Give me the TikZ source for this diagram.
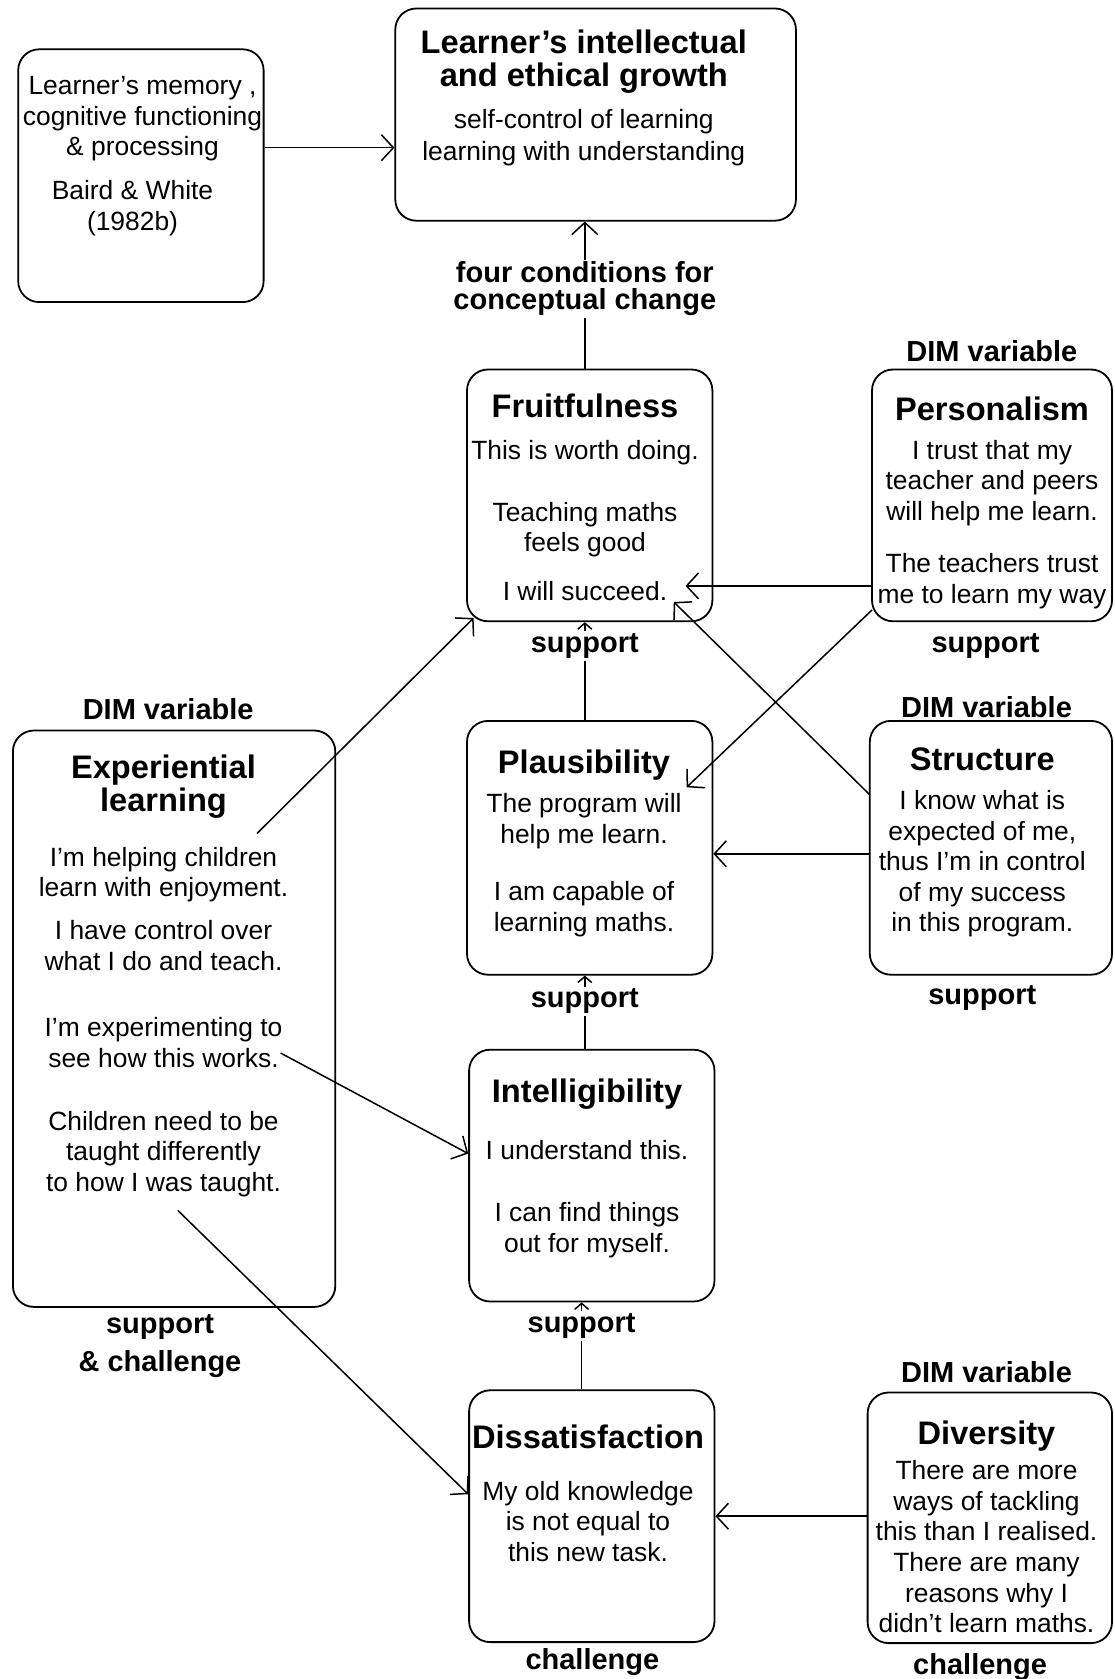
\documentclass[tikz,border=0pt]{standalone}
\usepackage{fontspec}
\setmainfont{Liberation Sans}
\usetikzlibrary{arrows.meta}
\newcommand\ttl[1]{{\fontsize{16.3}{17}\selectfont\bfseries #1}}

\begin{document}
\begin{tikzpicture}[x=0.5pt,y=-0.5pt]
\tikzset{
    box/.style={draw, line width=0.9pt, rounded corners=10.5pt, inner sep=0pt},
    txt/.style={align=center, inner sep=0pt, anchor=north, font=\fontsize{13.2}{15.3}\selectfont},
    lbl/.style={inner sep=1pt, align=center, font=\fontsize{14.5}{13}\selectfont\bfseries},
    conn/.style={line width=0.75pt},
    arr/.style={line width=0.75pt, -{Straight Barb[length=6pt,width=13pt]}},
    stub/.style={line width=0.75pt, -{Straight Barb[length=3pt,width=7pt]}},
}
\useasboundingbox (0,0) rectangle (1114,1679);

% Boxes
\foreach \name/\x/\y/\w/\h in {memory/140.9/175.7/122.7/126.4, growth/595.6/114.6/200.3/106.1,
    fruit/589.7/495.4/122.7/125.9, person/992/495.4/120/125.9,
    plaus/589.7/847.8/122.7/126.9, structure/990.9/847.8/121.1/126.9,
    exper/174.1/1018.7/161.2/288.2, intell/591.8/1175.6/122.7/125.9,
    dissat/591.8/1516.2/122.7/125.9, diversity/989.8/1517.8/122.2/125.3}
    \node[box, minimum width=\w pt, minimum height=\h pt] (\name) at (\x,\y) {};

% Box texts
\node[txt] (memorytxt) at (142.5,76.2) {Learner's memory ,\\cognitive functioning\\\& processing\\[6.7pt]Baird \& White\rule{10pt}{0pt}\\(1982b)\rule{10pt}{0pt}};
\node[txt] (growthtxt) at (583.8,29) {\ttl{Learner's intellectual}\\[1.3pt]\ttl{and ethical growth}\\[5.6pt]self-control of learning\\[0.8pt]learning with understanding};
\node[txt] (fruittxt) at (585,393.2) {\ttl{Fruitfulness}\\[5.6pt]This is worth doing.\\[15.8pt]Teaching maths\\feels good\\[8.8pt]I will succeed.};
\node[txt] (persontxt) at (992,396.4) {\ttl{Personalism}\\[4pt]I trust that my\\teacher and peers\\will help me learn.\\[10.9pt]The teachers trust\\me to learn my way};
\node[txt] (plaustxt) at (584,749.9) {\ttl{Plausibility}\\[4pt]The program will\\help me learn.\\[13.6pt]I am capable of\\learning maths.};
\node[txt] (structuretxt) at (982.3,747.7) {\ttl{Structure}\\[4pt]I know what is\\expected of me,\\thus I'm in control\\of my success\\in this program.};
\node[txt] (expertxt) at (163.5,754.2) {\ttl{Experiential}\\[1.3pt]\ttl{learning}\\[12pt]I'm helping children\\learn with enjoyment.\\[6.1pt]I have control over\\what I do and teach.\\[17.9pt]I'm experimenting to\\see how this works.\\[16.3pt]Children need to be\\taught differently\\to how I was taught.};
\node[txt] (intelltxt) at (587,1078.7) {\ttl{Intelligibility}\\[13.1pt]I understand this.\\[15.8pt]I can find things\\out for myself.};
\node[txt] (dissattxt) at (588,1424.7) {\ttl{Dissatisfaction}\\[10.4pt]My old knowledge\\is not equal to\\this new task.};
\node[txt] (diversitytxt) at (986.5,1420.4) {\ttl{Diversity}\\[2.3pt]There are more\\ways of tackling\\this than I realised.\\There are many\\reasons why I\\didn't learn maths.};

% Labels
\foreach \name/\x/\y/\txt in {pdim/991.9/351.3/DIM variable, edim/168.2/709.1/DIM variable,
    sdim/986.5/707/DIM variable, vdim/986.5/1372.2/DIM variable,
    fsup/584.8/645.9/support, psup/985.5/645.9/support, plsup/584.8/1001.5/support,
    ssup/982.2/998.3/support, insup/581.6/1326.1/support,
    dchal/592.4/1662.4/challenge, vchal/980.1/1666.7/challenge}
    \node[lbl] (\name) at (\x,\y) {\txt};
\node[lbl] (four) at (584.8,289) {four conditions for\\[0.5pt]conceptual change};
\node[lbl] (esup) at (160,1346) {support\\[4.7pt]\& challenge};

% Vertical chain
\draw[conn] (fruit.north -| four) -- (four.south);
\draw[arr] (four.north) -- (growth.south -| four);
\draw[conn] (plaus.north -| fsup) -- (fsup.south);
\draw[stub] (fsup.north) -- (fruit.south -| fsup);
\draw[conn] (intell.north -| plsup) -- (plsup.south);
\draw[stub] (plsup.north) -- (plaus.south -| plsup);
\draw[conn] (dissat.north -| insup) -- (insup.south);
\draw[stub] (insup.north) -- (intell.south -| insup);

% Horizontal arrows
\draw[arr] ([yshift=14pt]memory.east) -- ([yshift=14pt]memory.east -| growth.west);
\coordinate (succeed) at (685.5,585.9);
\draw[arr] (person.west |- succeed) -- (succeed);
\draw[arr] ([yshift=-3pt]structure.west) -- ([yshift=-3pt]structure.west -| plaus.east);
\draw[arr] (diversity.west |- dissat.east) -- (dissat.east);

% Diagonal arrows
\coordinate (trust) at (872,610);
\coordinate (program) at (686.6,787.3);
\draw[arr] (trust) -- (program);
\coordinate (expected) at (869.8,794.8);
\coordinate (worth) at (673.8,602);
\draw[arr] (expected) -- (worth);
\coordinate (enjoy) at (257.1,833.4);
\draw[arr] (enjoy) -- ([xshift=3.75pt,yshift=2.1pt]fruit.south west);
\coordinate (works) at (280.6,1053);
\draw[arr] (works) -- ([yshift=11pt]intell.west);
\coordinate (taught) at (177.8,1210.4);
\draw[arr] (taught) -- ([yshift=11pt]dissat.west);

\end{tikzpicture}
\end{document}
